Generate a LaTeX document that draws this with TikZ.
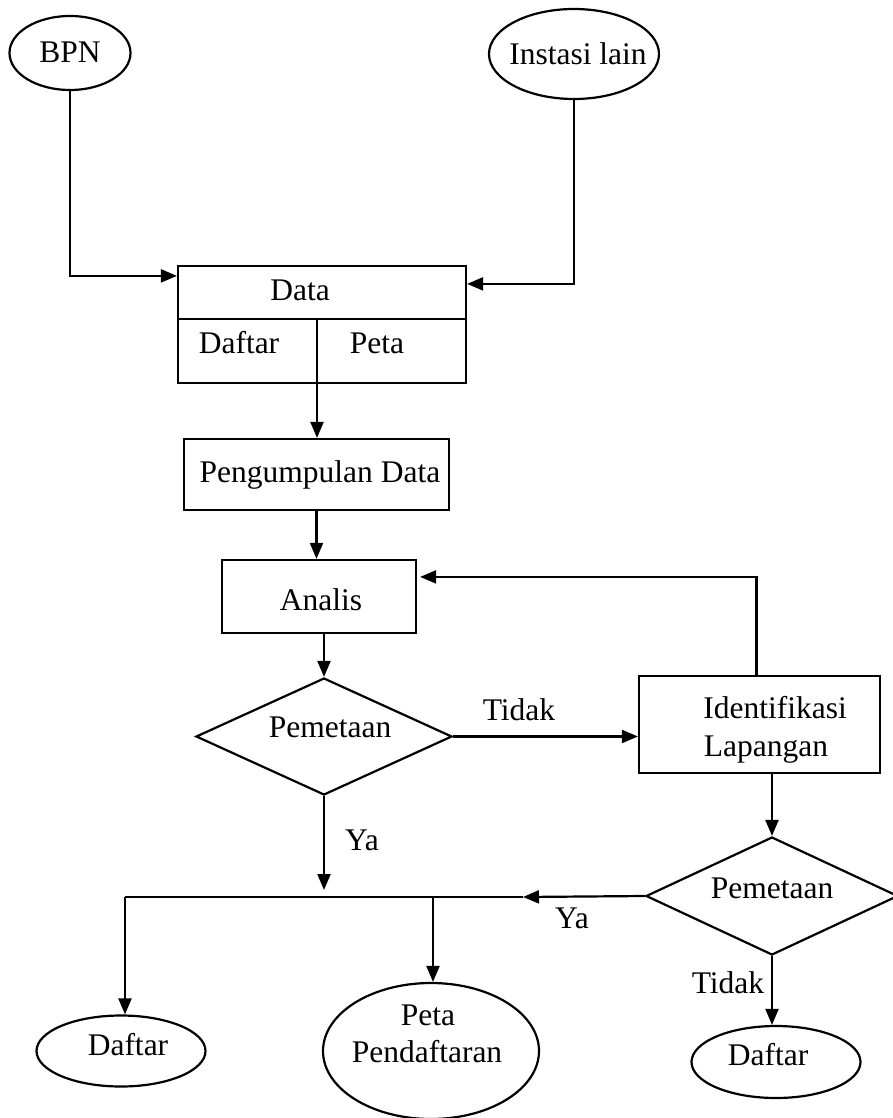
\documentclass[tikz,border=0pt]{standalone}
\usepackage{fontspec}
\setmainfont{Liberation Serif}
\usetikzlibrary{arrows.meta,shapes.geometric}
\begin{document}
\begin{tikzpicture}[x=1pt,y=-1pt,
  every node/.style={font=\fontsize{31.5}{38}\selectfont, inner sep=0pt},
  ln/.style={line width=2.2pt},
  arr/.style={ln, -{Triangle[length=16pt,width=13pt]}},
  boxx/.style={draw, ln, rectangle},
  oval/.style={draw, ln, ellipse},
  dia/.style={draw, ln, diamond},
  lbl/.style={anchor=base}]
\useasboundingbox (0,0) rectangle (892,1118);
% shapes
\node[oval, minimum width=121pt, minimum height=74pt] (bpn) at (70,53) {};
\node[oval, minimum width=170pt, minimum height=90pt] (inst) at (574,54) {};
\node[boxx, minimum width=288pt, minimum height=117pt] (data) at (322,324.5) {};
\node[boxx, minimum width=265pt, minimum height=71pt] (pd) at (316.5,474.5) {};
\node[boxx, minimum width=194pt, minimum height=73pt] (analis) at (319,596.5) {};
\node[boxx, minimum width=241pt, minimum height=97pt] (ident) at (759.5,724.5) {};
\node[dia, minimum width=256pt, minimum height=117pt] (d1) at (324,736.5) {};
\node[dia, minimum width=252pt, minimum height=118pt] (d2) at (772,896) {};
\node[oval, minimum width=169pt, minimum height=71pt] (daf1) at (121,1051) {};
\node[oval, minimum width=216pt, minimum height=136pt] (peta) at (431,1051) {};
\node[oval, minimum width=169pt, minimum height=72pt] (daf2) at (776,1062) {};
% data box inner lines
\coordinate (dl) at (178,319);
\coordinate (dr) at (466,319);
\coordinate (dv) at (317,319);
\draw[ln] (dl) -- (dr);
\draw[ln] (dv) -- (dv |- data.south);
% texts
\node[lbl] (tbpn) at (70,63) {BPN};
\node[lbl] (tinst) at (578,65) {Instasi lain};
\node[lbl] (tdata) at (300,300) {Data};
\node[lbl] (tdaftar) at (239,353) {Daftar};
\node[lbl] (tpeta) at (377,353) {Peta};
\node[lbl] (tpd) at (320,482) {Pengumpulan Data};
\node[lbl] (tan) at (321,610) {Analis};
\node[lbl] (tpem1) at (330,737) {Pemetaan};
\node[lbl] (tid1) at (775,718) {Identifikasi};
\node[lbl] (tid2) at (766,756) {Lapangan};
\node[lbl] (tpem2) at (772,898) {Pemetaan};
\node[lbl] (tdaf1) at (128,1055) {Daftar};
\node[lbl] (tpeta1) at (428,1025) {Peta};
\node[lbl] (tpeta2) at (427,1062) {Pendaftaran};
\node[lbl] (tdaf2) at (768,1065) {Daftar};
% edge labels
\node[lbl] (ltidak1) at (519,720) {Tidak};
\node[lbl] (lya1) at (362,850) {Ya};
\node[lbl] (lya2) at (572,928) {Ya};
\node[lbl] (ltidak2) at (728,993) {Tidak};
% connectors
\draw[arr] (bpn.south) |- ([yshift=-11pt]data.north west);
\draw[arr] (inst.south) |- ([yshift=-19pt]data.north east);
\draw[arr] (dv |- data.south) -- (dv |- pd.north);
\draw[arr] (pd.south) -- (pd.south |- analis.north);
\draw[arr] (d1.north |- analis.south) -- (d1.north);
\draw[arr] (d1.east) -- (d1.east -| ident.west);
\draw[arr] ([xshift=-3pt]ident.north) |- ([yshift=-18pt,xshift=3pt]analis.north east);
\draw[arr] (ident.south -| d2.north) -- (d2.north);
\coordinate (j1) at (324,890);
\draw[arr] (d1.south) -- (j1);
\coordinate (jm) at (523,897);
\coordinate (jl) at (125,897);
\coordinate (jp) at (433,897);
\draw[arr] (d2.west) -- (jm);
\draw[ln] (jm) -- (jl);
\draw[arr] (jl) -- (jl |- daf1.north);
\draw[arr] (jp) -- (jp |- peta.north);
\draw[arr] (d2.south) -- (d2.south |- daf2.north);
\end{tikzpicture}
\end{document}
